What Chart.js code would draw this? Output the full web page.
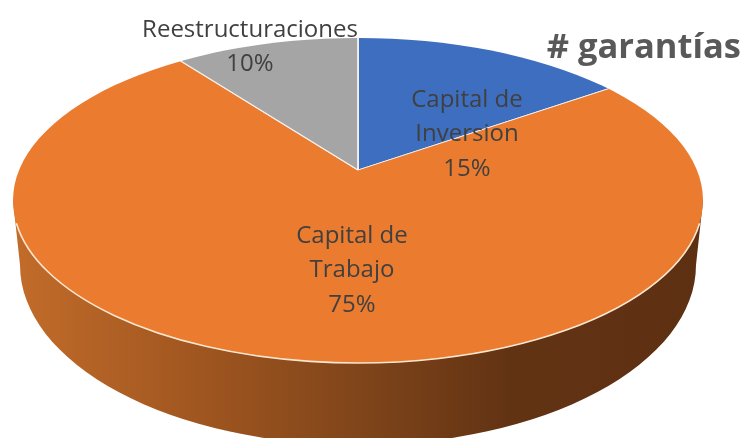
<!DOCTYPE html>
<html lang="es">
<head>
  <meta charset="UTF-8" />
  <title># garantías</title>
  <script src="https://cdn.jsdelivr.net/npm/chart.js"></script>
  <style>
    body { background:#fff; margin:0; }
    canvas { display:block; }
  </style>
</head>
<body>
  <canvas id="pie" width="749" height="438"></canvas>
  <script>
    const categories = ["Capital de Inversion", "Capital de Trabajo", "Reestructuraciones"];
    const values = [15, 75, 10];
    const colors = ["#3e6ebf", "#ea7b2f", "#a5a5a5"];
    const titleText = "# garantías";

    // etiquetas partidas en lineas, como en el original
    const labelLines = [["Capital de", "Inversion"], ["Capital de", "Trabajo"], ["Reestructuraciones"]];
    const labelPos = [[467, 100], [352, 236], [250, 30]];
    const lineGap = 34.5;

    // geometria del "3D": el vertice no cae en el centro de la elipse
    const apex = { x: 358, y: 170 };
    const top3d = { x: 358, y: 200.5, a: 345, b: 162.5 };
    const bottom3d = { x: 358, y: 265, a: 338, b: 180 };
    const wedgeA = 470, wedgeB = 210;

    const fake3d = {
      id: "fake3d",
      beforeDatasetsDraw(chart) {
        const ctx = chart.ctx;
        // pared lateral
        const g = ctx.createLinearGradient(13, 0, 703, 0);
        g.addColorStop(0, "#c26c2a");
        g.addColorStop(0.27, "#a05620");
        g.addColorStop(0.5, "#80451a");
        g.addColorStop(0.72, "#623313");
        g.addColorStop(1, "#5e3012");
        ctx.save();
        ctx.fillStyle = g;
        ctx.beginPath();
        ctx.moveTo(top3d.x - top3d.a, top3d.y);
        ctx.lineTo(bottom3d.x - bottom3d.a, bottom3d.y);
        ctx.ellipse(bottom3d.x, bottom3d.y, bottom3d.a, bottom3d.b, 0, Math.PI, 0, true);
        ctx.lineTo(top3d.x + top3d.a, top3d.y);
        ctx.closePath();
        ctx.fill();
        ctx.restore();

        // las rebanadas se recortan con la elipse superior
        const arc = chart.getDatasetMeta(0).data[0];
        ctx.save();
        ctx.beginPath();
        ctx.ellipse(top3d.x, top3d.y, top3d.a, top3d.b, 0, 0, Math.PI * 2);
        ctx.clip();
        ctx.translate(apex.x, apex.y);
        ctx.scale(wedgeA / arc.outerRadius, wedgeB / arc.outerRadius);
        ctx.translate(-arc.x, -arc.y);
      },
      afterDatasetsDraw(chart) {
        const ctx = chart.ctx;
        ctx.restore();

        // borde claro del frente
        ctx.save();
        ctx.strokeStyle = "#fbe6cf";
        ctx.lineWidth = 1.6;
        ctx.beginPath();
        ctx.ellipse(top3d.x, top3d.y, top3d.a, top3d.b, 0, 0.14, Math.PI - 0.14);
        ctx.stroke();

        // etiquetas
        ctx.fillStyle = "#404040";
        ctx.font = '24px "Open Sans"';
        ctx.textAlign = "center";
        ctx.textBaseline = "middle";
        labelLines.forEach((lines, i) => {
          const rows = lines.concat(values[i] + "%");
          rows.forEach((t, j) => ctx.fillText(t, labelPos[i][0], labelPos[i][1] + j * lineGap));
        });
        ctx.restore();
      }
    };

    new Chart(document.getElementById("pie"), {
      type: "pie",
      data: {
        labels: categories,
        datasets: [{ data: values, backgroundColor: colors, borderColor: "#f4f1ee", borderWidth: 0.7 }]
      },
      options: {
        responsive: false,
        animation: false,
        layout: { padding: { right: 8 } },
        plugins: {
          legend: { display: false },
          tooltip: { enabled: false },
          title: {
            display: true,
            text: titleText,
            align: "end",
            color: "#595959",
            font: { family: '"Open Sans"', size: 34.5, weight: "bold" },
            padding: { top: 27, bottom: 0 }
          }
        }
      },
      plugins: [fake3d]
    });
  </script>
</body>
</html>
